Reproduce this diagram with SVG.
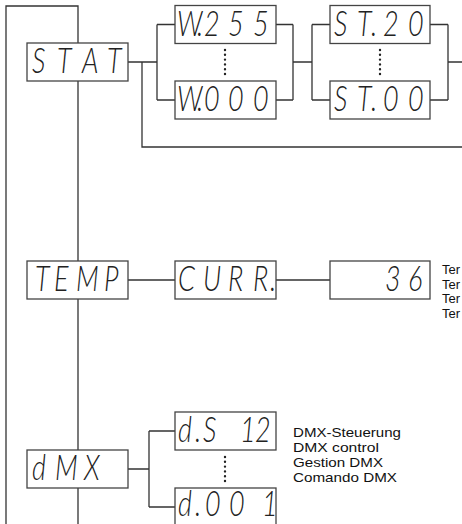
<svg xmlns="http://www.w3.org/2000/svg" width="462" height="524" viewBox="0 0 462 524">
<style>
.ln{fill:none;stroke:#333;stroke-width:1.3}
.bx{fill:#fff;stroke:#444;stroke-width:1.3}
.seg{font-family:"Lato","Inter","DejaVu Sans",sans-serif;font-weight:300;font-style:italic;font-size:36px;fill:#222}
.lbl{font-family:"Liberation Sans",Arial,sans-serif;font-size:13px;fill:#111}
.dots{fill:none;stroke:#222;stroke-width:2.4;stroke-linecap:round;stroke-dasharray:0 4.8}
</style>
<rect width="462" height="524" fill="#fff"/>
<g id="connectors">
<path class="ln" d="M6,524 V6 H78 V43 M78,81 V261 M78,299 V450 M78,488 V524"/>
<path class="ln" d="M128,62 H157 M157,24.5 V100 M157,24.5 H175 M157,100 H175"/>
<path class="ln" d="M142,62 V147 H462"/>
<path class="ln" d="M276,24.5 H293 M276,100 H293 M293,24.5 V100 M293,62 H312 M312,24.5 V100 M312,24.5 H330 M312,100 H330"/>
<path class="ln" d="M430,24.5 H448 M430,100 H448 M448,24.5 V100 M448,62 H462"/>
<path class="ln" d="M128,280 H175 M276,280 H330"/>
<path class="ln" d="M128,469 H149 M149,431 V507 M149,431 H175 M149,507 H175"/>
<path class="dots" d="M225,50 V75 M380,50 V75 M225,457 V482"/>
</g>
<g id="stat"><rect class="bx" x="27" y="43" width="101" height="38"/><text class="seg" transform="scale(0.75,1)" x="42.67 76 109.33 142.67" y="73.5">STAT</text></g>
<g id="w255"><rect class="bx" x="175" y="5.5" width="101" height="38"/><text class="seg" transform="scale(0.75,1)" x="236 262.7 272 304 337.3" y="36">W.255</text></g>
<g id="w000"><rect class="bx" x="175" y="81" width="101" height="38"/><text class="seg" transform="scale(0.75,1)" x="236 262.7 272 304 337.3" y="111.5">W.000</text></g>
<g id="st20"><rect class="bx" x="330" y="5.5" width="100" height="38"/><text class="seg" transform="scale(0.75,1)" x="445.3 476 494.7 510.7 544" y="36">ST.20</text></g>
<g id="st00"><rect class="bx" x="330" y="81" width="100" height="38"/><text class="seg" transform="scale(0.75,1)" x="445.3 476 494.7 510.7 544" y="111.5">ST.00</text></g>
<g id="temp"><rect class="bx" x="27" y="261" width="101" height="38"/><text class="seg" transform="scale(0.75,1)" x="46.67 72 101.33 138.67" y="291.5">TEMP</text></g>
<g id="curr"><rect class="bx" x="175" y="261" width="101" height="38"/><text class="seg" transform="scale(0.75,1)" x="237.33 270.67 304 337.33 360" y="291.5">CURR.</text></g>
<g id="val36"><rect class="bx" x="330" y="261" width="100" height="38"/><text class="seg" transform="scale(0.75,1)" x="513.33 544" y="291.5">36</text></g>
<g id="dmx"><rect class="bx" x="27" y="450" width="101" height="38"/><text class="seg" transform="scale(0.75,1)" x="42.67 73.33 112" y="480.5">dMX</text></g>
<g id="ds12"><rect class="bx" x="175" y="412" width="101" height="38"/><text class="seg" transform="scale(0.75,1)" x="237.33 260 270.67 320 340" y="442.5">d.S12</text></g>
<g id="d001"><rect class="bx" x="175" y="488" width="101" height="38"/><text class="seg" transform="scale(0.75,1)" x="237.33 260 273.33 305.33 349.33" y="516">d.001</text></g>
<g id="labels">
<text class="lbl" x="442" y="274">Ter</text>
<text class="lbl" x="442" y="289">Ter</text>
<text class="lbl" x="442" y="303">Ter</text>
<text class="lbl" x="442" y="318">Ter</text>
<text class="lbl" x="293" y="437" textLength="108" lengthAdjust="spacingAndGlyphs">DMX-Steuerung</text>
<text class="lbl" x="293" y="452" textLength="86" lengthAdjust="spacingAndGlyphs">DMX control</text>
<text class="lbl" x="293" y="467" textLength="90" lengthAdjust="spacingAndGlyphs">Gestion DMX</text>
<text class="lbl" x="293" y="482" textLength="104" lengthAdjust="spacingAndGlyphs">Comando DMX</text>
</g>
</svg>
